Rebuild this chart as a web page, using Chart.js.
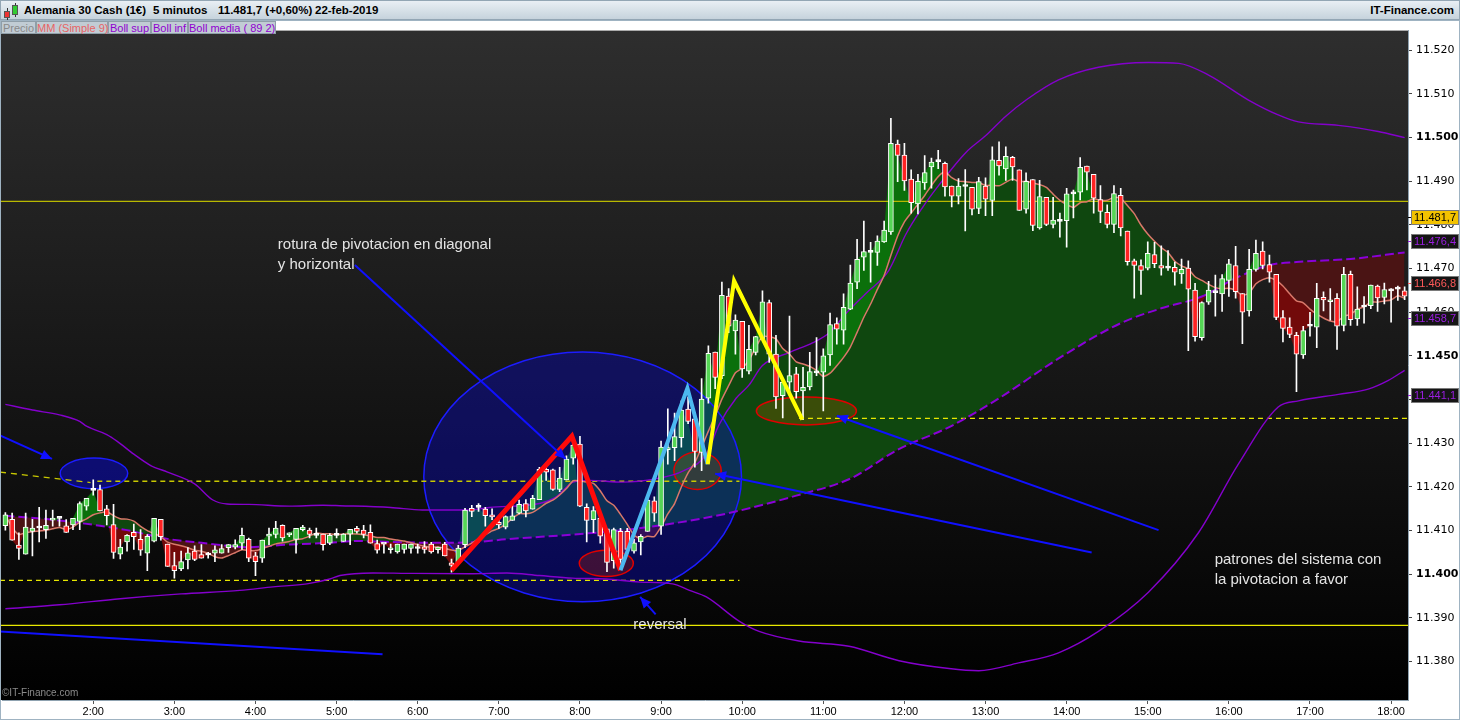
<!DOCTYPE html>
<html>
<head>
<meta charset="utf-8">
<title>Alemania 30 Cash</title>
<script src="https://cdn.jsdelivr.net/npm/chart.js@4.4.1/dist/chart.umd.min.js"></script>
<style>
  html, body { margin: 0; padding: 0; background: #fff; }
  body { width: 1460px; height: 720px; position: relative; overflow: hidden; font-family: "Liberation Sans", Arial, sans-serif; }
  #head { position: absolute; left: 0; top: 0; width: 1460px; height: 20px; box-sizing: border-box; background: linear-gradient(#e9eff4, #c6d3dc); border: 1px solid #93a6b4; }
  #head span { position: absolute; top: 3px; font-size: 11.5px; font-weight: bold; color: #000; white-space: nowrap; }
  #head i { position: absolute; display: block; }
  #wrap { position: absolute; left: 0; top: 20px; width: 1460px; height: 700px; }
  .leg { position: absolute; top: 21px; height: 13px; line-height: 12px; font-size: 11px; text-align: center; background: #c1ccd4; border: 1px solid #8f9ea8; box-sizing: border-box; white-space: nowrap; }
</style>
</head>
<body>
<div id="head">
  <i style="left:6px;top:7px;width:1px;height:12px;background:#333"></i>
  <i style="left:3px;top:10px;width:6px;height:7px;background:#e33;border:1px solid #555;box-sizing:border-box"></i>
  <i style="left:14px;top:2px;width:1px;height:14px;background:#333"></i>
  <i style="left:11px;top:4px;width:6px;height:10px;background:#3c3;border:1px solid #555;box-sizing:border-box"></i>
  <span style="left:23px">Alemania 30 Cash (1€)</span>
  <span style="left:152px">5 minutos</span>
  <span style="left:217px">11.481,7 (+0,60%)</span>
  <span style="left:314px">22-feb-2019</span>
  <span style="right:5px">IT-Finance.com</span>
</div>
<div id="wrap"><canvas id="chart" width="1460" height="700"></canvas></div>
<div class="leg" style="left:1px;width:35px;color:#8a8a8a">Precio</div>
<div class="leg" style="left:36px;width:72px;color:#e86464">MM (Simple 9)</div>
<div class="leg" style="left:108px;width:43px;color:#9000d0">Boll sup</div>
<div class="leg" style="left:151px;width:37px;color:#9000d0">Boll inf</div>
<div class="leg" style="left:188px;width:88px;color:#9000d0">Boll media ( 89 2)</div>
<script>
// 5-minute bars from 0:55 to 18:10
const openP = [
  11411.1, 11412.6, 11406.7, 11404.6, 11409.8, 11410.6, 11410.2, 11412.4, 11412.8, 11411.1, 11411.3, 11412.1,
  11415.6, 11419.2, 11419.4, 11415.0, 11411.4, 11404.6, 11407.4, 11409.6, 11408.0, 11404.8, 11407.6, 11412.6,
  11406.9, 11402.0, 11401.2, 11403.3, 11405.3, 11404.5, 11404.4, 11404.8, 11404.8, 11406.1, 11406.2, 11407.1,
  11408.0, 11404.2, 11403.7, 11408.7, 11409.1, 11411.2, 11409.0, 11408.0, 11410.2, 11410.1, 11408.9, 11409.2,
  11407.1, 11408.9, 11407.5, 11409.2, 11410.5, 11410.1, 11409.6, 11407.0, 11406.9, 11405.6, 11405.1, 11405.7,
  11405.9, 11405.9, 11406.3, 11406.9, 11405.6, 11406.9, 11402.6, 11402.7, 11406.8, 11415.1, 11415.3, 11414.9,
  11413.6, 11411.9, 11410.8, 11412.3, 11414.0, 11416.2, 11414.9, 11417.1, 11424.0, 11423.9, 11419.4, 11421.6,
  11426.6, 11429.8, 11415.3, 11412.5, 11412.8, 11410.4, 11403.1, 11409.8, 11409.8, 11405.3, 11407.4, 11409.8,
  11416.8, 11411.0, 11428.5, 11429.0, 11431.3, 11437.8, 11435.6, 11427.9, 11440.3, 11450.9, 11445.5, 11463.7,
  11455.7, 11457.9, 11446.5, 11450.8, 11453.8, 11462.2, 11450.4, 11440.9, 11444.0, 11445.9, 11442.0, 11442.9,
  11446.1, 11446.3, 11450.2, 11457.4, 11455.9, 11460.7, 11466.9, 11472.6, 11473.7, 11473.7, 11476.1, 11478.4,
  11498.5, 11496.0, 11490.5, 11484.8, 11489.6, 11493.3, 11494.5, 11494.1, 11488.9, 11486.6, 11488.8, 11488.6,
  11483.8, 11488.9, 11485.6, 11494.8, 11492.8, 11495.5, 11492.6, 11483.6, 11490.4, 11479.3, 11486.3, 11480.1,
  11480.8, 11481.0, 11487.1, 11487.5, 11493.5, 11491.6, 11485.8, 11482.9, 11480.1, 11486.8, 11478.6, 11471.8,
  11470.7, 11470.1, 11473.2, 11470.7, 11470.1, 11470.3, 11468.8, 11470.1, 11465.1, 11454.2, 11462.3, 11464.5,
  11464.2, 11467.3, 11470.7, 11464.3, 11460.3, 11469.8, 11474.0, 11470.9, 11468.7, 11458.8, 11456.6, 11454.7,
  11450.2, 11456.8, 11456.6, 11463.4, 11462.4, 11463.2, 11457.0, 11468.7, 11458.5, 11461.2, 11461.5, 11466.0,
  11463.4, 11464.9, 11465.3, 11464.9
];
const highP = [
  11414.1, 11414.0, 11409.5, 11414.0, 11412.6, 11415.3, 11414.7, 11414.7, 11413.0, 11412.5, 11412.8, 11416.6,
  11417.4, 11421.6, 11420.4, 11415.8, 11416.0, 11408.0, 11409.1, 11411.5, 11410.2, 11409.1, 11412.8, 11412.6,
  11406.9, 11405.0, 11405.3, 11406.1, 11406.5, 11406.8, 11405.0, 11406.5, 11406.8, 11406.8, 11407.9, 11410.6,
  11408.3, 11405.0, 11407.8, 11410.6, 11412.1, 11411.3, 11409.5, 11410.5, 11411.2, 11410.6, 11410.6, 11409.2,
  11409.3, 11410.4, 11409.3, 11410.3, 11411.0, 11411.2, 11411.3, 11407.8, 11406.9, 11406.9, 11406.9, 11406.9,
  11406.9, 11406.9, 11407.5, 11407.3, 11406.2, 11407.3, 11403.5, 11406.6, 11415.1, 11415.8, 11416.2, 11415.3,
  11415.0, 11413.1, 11413.4, 11416.0, 11417.0, 11417.1, 11418.1, 11424.5, 11424.6, 11424.1, 11424.5, 11427.1,
  11431.6, 11431.6, 11416.1, 11415.5, 11412.8, 11410.4, 11410.6, 11410.5, 11410.5, 11408.0, 11409.1, 11417.3,
  11417.7, 11430.5, 11437.9, 11436.9, 11439.7, 11440.6, 11435.6, 11444.8, 11452.3, 11450.9, 11466.9, 11465.4,
  11459.4, 11457.9, 11457.0, 11454.5, 11464.9, 11462.8, 11454.7, 11444.8, 11459.1, 11447.4, 11447.4, 11450.8,
  11454.2, 11451.6, 11459.8, 11458.7, 11464.2, 11470.8, 11476.7, 11480.9, 11476.0, 11477.5, 11480.9, 11504.4,
  11499.4, 11498.7, 11492.6, 11491.6, 11495.9, 11495.3, 11497.1, 11494.4, 11488.9, 11490.6, 11492.7, 11488.6,
  11490.9, 11490.8, 11497.9, 11499.0, 11497.9, 11495.7, 11492.6, 11491.9, 11490.4, 11490.2, 11486.3, 11486.3,
  11482.7, 11488.4, 11488.0, 11495.4, 11493.5, 11491.6, 11489.0, 11484.6, 11489.0, 11488.4, 11478.6, 11472.2,
  11472.0, 11476.1, 11476.0, 11475.2, 11474.1, 11471.5, 11472.2, 11471.8, 11466.6, 11462.4, 11467.1, 11468.5,
  11468.6, 11472.1, 11475.1, 11464.3, 11474.4, 11476.5, 11476.1, 11473.1, 11468.7, 11460.4, 11458.7, 11455.4,
  11456.8, 11460.0, 11466.6, 11464.7, 11465.4, 11464.3, 11470.3, 11469.4, 11465.8, 11463.6, 11466.2, 11466.2,
  11466.7, 11465.4, 11466.0, 11465.8
];
const lowP = [
  11410.1, 11407.8, 11403.4, 11404.6, 11404.2, 11407.4, 11408.2, 11411.0, 11411.0, 11409.6, 11410.2, 11410.2,
  11414.7, 11418.1, 11414.5, 11411.3, 11403.6, 11403.5, 11405.3, 11405.7, 11404.3, 11400.8, 11407.4, 11407.8,
  11401.8, 11399.1, 11400.8, 11401.2, 11403.1, 11403.7, 11403.7, 11402.9, 11404.8, 11405.0, 11405.8, 11405.7,
  11402.9, 11399.7, 11402.7, 11406.8, 11408.3, 11407.6, 11408.6, 11404.8, 11409.9, 11408.3, 11408.3, 11405.5,
  11406.8, 11408.3, 11407.5, 11406.8, 11409.4, 11408.3, 11407.1, 11404.8, 11404.8, 11404.8, 11404.8, 11404.8,
  11404.8, 11404.8, 11404.8, 11404.8, 11404.8, 11404.2, 11400.5, 11402.7, 11406.1, 11413.2, 11414.4, 11411.0,
  11412.5, 11410.5, 11410.4, 11412.3, 11413.8, 11413.1, 11414.9, 11417.1, 11421.5, 11419.2, 11418.9, 11421.6,
  11425.2, 11415.5, 11407.4, 11409.5, 11407.1, 11400.6, 11401.4, 11401.8, 11404.6, 11404.8, 11404.4, 11409.8,
  11412.1, 11409.1, 11425.2, 11426.0, 11429.1, 11434.5, 11424.5, 11423.7, 11439.2, 11442.5, 11444.8, 11455.3,
  11450.4, 11445.1, 11445.9, 11450.2, 11453.8, 11448.5, 11438.0, 11435.8, 11441.0, 11440.3, 11435.4, 11442.2,
  11445.5, 11437.4, 11447.8, 11452.7, 11452.7, 11460.6, 11465.4, 11469.6, 11466.9, 11470.7, 11476.0, 11477.8,
  11489.9, 11487.9, 11482.7, 11482.5, 11488.1, 11488.4, 11492.9, 11486.6, 11484.1, 11484.8, 11478.6, 11482.3,
  11482.6, 11482.1, 11482.1, 11491.4, 11490.2, 11490.2, 11483.3, 11482.7, 11478.7, 11479.0, 11479.8, 11479.3,
  11477.2, 11474.9, 11481.6, 11485.7, 11488.0, 11482.7, 11480.5, 11479.3, 11478.2, 11477.5, 11470.8, 11463.2,
  11464.1, 11469.7, 11470.2, 11468.5, 11469.6, 11466.2, 11466.6, 11451.2, 11453.4, 11453.6, 11461.8, 11459.1,
  11460.2, 11463.6, 11463.2, 11452.8, 11459.1, 11469.4, 11469.9, 11466.9, 11458.3, 11453.2, 11454.2, 11441.8,
  11449.4, 11454.5, 11451.9, 11460.3, 11458.2, 11451.5, 11455.7, 11457.0, 11457.0, 11457.5, 11460.8, 11460.2,
  11461.9, 11457.7, 11462.7, 11462.9
];
const closeP = [
  11413.6, 11407.8, 11405.9, 11410.8, 11410.6, 11410.6, 11411.2, 11412.8, 11412.8, 11409.6, 11412.8, 11416.2,
  11417.4, 11419.2, 11414.5, 11413.4, 11405.0, 11406.2, 11408.9, 11408.6, 11405.5, 11408.7, 11412.8, 11408.6,
  11401.8, 11400.8, 11402.9, 11404.9, 11403.4, 11403.7, 11404.4, 11405.6, 11405.9, 11406.8, 11406.8, 11408.9,
  11403.7, 11402.9, 11407.8, 11409.2, 11410.6, 11408.3, 11409.5, 11410.5, 11410.8, 11409.1, 11408.9, 11406.8,
  11408.9, 11408.9, 11409.2, 11410.3, 11409.8, 11409.1, 11407.1, 11405.5, 11406.9, 11405.8, 11406.9, 11406.9,
  11406.9, 11405.9, 11405.7, 11405.1, 11406.2, 11404.2, 11402.0, 11406.0, 11414.7, 11414.4, 11415.3, 11413.4,
  11413.1, 11411.3, 11413.2, 11413.4, 11416.0, 11414.5, 11417.4, 11424.0, 11423.4, 11419.4, 11422.0, 11426.4,
  11429.6, 11415.6, 11412.3, 11414.6, 11408.7, 11402.7, 11410.2, 11403.4, 11405.7, 11407.2, 11408.7, 11417.0,
  11414.0, 11429.1, 11429.0, 11431.5, 11437.6, 11435.0, 11428.1, 11440.1, 11450.6, 11445.1, 11463.9, 11456.8,
  11458.2, 11447.0, 11451.5, 11454.4, 11462.4, 11450.4, 11440.6, 11444.0, 11445.5, 11441.8, 11442.8, 11446.4,
  11446.1, 11450.0, 11457.2, 11456.1, 11461.1, 11466.7, 11472.1, 11473.9, 11473.7, 11476.3, 11478.8, 11498.7,
  11495.9, 11490.1, 11485.1, 11490.0, 11492.0, 11494.4, 11494.5, 11488.7, 11486.6, 11488.9, 11488.8, 11483.6,
  11489.9, 11485.9, 11494.9, 11493.5, 11495.7, 11493.3, 11483.3, 11490.0, 11479.9, 11486.5, 11480.1, 11481.1,
  11480.8, 11487.1, 11487.1, 11493.2, 11492.1, 11486.1, 11483.1, 11480.1, 11487.2, 11479.3, 11471.6, 11470.7,
  11469.6, 11473.5, 11471.1, 11470.1, 11470.1, 11469.2, 11469.8, 11465.3, 11454.4, 11462.2, 11465.1, 11464.5,
  11467.7, 11471.1, 11464.7, 11460.0, 11469.8, 11473.5, 11470.7, 11469.2, 11458.8, 11456.3, 11454.9, 11450.4,
  11455.8, 11456.8, 11463.2, 11462.8, 11462.8, 11456.8, 11468.7, 11458.3, 11460.7, 11461.2, 11466.2, 11463.3,
  11465.2, 11464.9, 11465.3, 11463.7
];

// Bollinger (89, 2) read at bar positions
const supBar = [0, 4, 8, 11, 12, 15, 16.5, 19, 21.5, 24, 28, 30.7, 32.8, 36, 42, 47, 49.5, 57, 61.7, 68.7, 71.6, 79, 81.5, 84, 86.4, 91.3, 96.3, 100.3, 103.7, 105.6, 108.1, 110, 112, 116, 119.4, 121.9, 124.4, 127.3, 130.7, 133.2, 135.6, 138.1, 142.1, 145, 148, 151, 155.8, 161.7, 169.1, 173.6, 178, 183.9, 188.3, 191.3, 197.2, 203.1, 207];
const supVal = [11438.9, 11437.6, 11436.5, 11435.0, 11433.9, 11432.0, 11430.5, 11427.5, 11424.9, 11423.4, 11420.7, 11417.0, 11416.1, 11416.0, 11415.6, 11415.8, 11415.7, 11415.3, 11414.7, 11414.7, 11415.3, 11416.2, 11417.7, 11421.1, 11421.5, 11421.1, 11421.9, 11423.7, 11427.5, 11434.3, 11440.3, 11443.3, 11447.8, 11450.8, 11453.0, 11455.3, 11459.8, 11464.3, 11469.6, 11477.8, 11483.8, 11489.1, 11496.6, 11500.4, 11504.9, 11508.6, 11513.2, 11516.1, 11517.2, 11517.0, 11514.3, 11508.6, 11505.2, 11503.6, 11502.8, 11501.4, 11500.0];
const medBar = [0, 7, 14, 18, 24, 29, 36, 42, 48, 52, 57, 63, 69, 74, 84, 92, 99, 107, 117, 125, 132, 140, 147, 156, 165, 171, 177, 182, 187, 191, 199, 207];
const medVal = [11413.4, 11412.5, 11411.1, 11410.1, 11408.1, 11407.2, 11406.2, 11406.8, 11407.2, 11407.6, 11407.4, 11407.2, 11407.3, 11408.0, 11409.1, 11410.2, 11411.7, 11414.0, 11418.0, 11421.9, 11428.5, 11434.0, 11440.3, 11449.6, 11457.5, 11460.9, 11463.6, 11467.8, 11470.8, 11471.5, 11472.2, 11473.7];
const infBar = [0, 8, 17, 26, 34.7, 39.6, 44.6, 48, 49.5, 54.4, 59.4, 68.7, 74.2, 79, 83.9, 88.9, 93.8, 98.7, 101.2, 103.7, 108.6, 111.5, 117.4, 124.8, 132.2, 139.6, 144, 149.9, 155.8, 161.7, 169.1, 176.5, 182.4, 188.3, 191.3, 197.2, 201.6, 204.6, 207];
const infVal = [11392.1, 11393.0, 11394.4, 11395.5, 11396.3, 11397.1, 11397.8, 11398.9, 11399.7, 11400.3, 11400.2, 11400.1, 11400.3, 11399.7, 11399.1, 11398.9, 11398.2, 11397.8, 11396.3, 11394.8, 11389.2, 11386.9, 11384.7, 11383.5, 11380.2, 11378.4, 11377.9, 11379.7, 11382.0, 11386.9, 11395.9, 11409.5, 11425.2, 11438.3, 11439.7, 11441.2, 11442.4, 11444.4, 11446.7];

const hourTicks = ['2:00', '3:00', '4:00', '5:00', '6:00', '7:00', '8:00', '9:00', '10:00', '11:00', '12:00', '13:00', '14:00', '15:00', '16:00', '17:00', '18:00'];
const markVals = [11481.7, 11476.4, 11466.8, 11458.7, 11441.1];
const markBg = ['#f2c200', '#151515', '#151515', '#151515', '#151515'];
const markFg = ['#000000', '#9a1ee0', '#ff5a5a', '#9a1ee0', '#9a1ee0'];

const times = [];
for (let i = 0; i < closeP.length; i++) {
  const m = 55 + 5 * i;
  times.push(Math.floor(m / 60) + ':' + String(m % 60).padStart(2, '0'));
}

const bodies = openP.map((o, i) => [Math.min(o, closeP[i]), Math.max(o, closeP[i])]);
const wicks = lowP.map((l, i) => [l, highP[i]]);
const bodyColor = openP.map((o, i) => closeP[i] > o ? '#55d655' : (closeP[i] < o ? '#ff2222' : '#ffffff'));
const mm9 = closeP.map((c, i) => {
  const s = closeP.slice(Math.max(0, i - 8), i + 1);
  return s.reduce((a, b) => a + b, 0) / s.length;
});
const pts = (xs, ys) => xs.map((x, i) => ({ x: x, y: ys[i] }));
const idx = closeP.map((c, i) => i);

// drawings on top of the chart, in bar index / price units
const ovals = [
  { i: 85.4, p: 11422.3, ri: 23.5, rp: 28.6, fill: 'rgba(8,8,215,0.36)', stroke: '#1c1cff' },
  { i: 13.1, p: 11423.1, ri: 5.0, rp: 3.5, fill: 'rgba(10,10,210,0.5)', stroke: '#1c1cff' },
  { i: 88.9, p: 11402.5, ri: 4.0, rp: 3.0, fill: 'rgba(140,30,20,0.4)', stroke: '#e00000' },
  { i: 102.4, p: 11423.7, ri: 3.5, rp: 4.3, fill: 'rgba(140,90,0,0.3)', stroke: '#e00000' },
  { i: 118.5, p: 11437.4, ri: 7.4, rp: 3.2, fill: 'rgba(140,90,0,0.35)', stroke: '#e00000' }
];
const guides = [
  { a: [-0.8, 11485.4], b: [208, 11485.4], color: '#b8b800', dash: [] },
  { a: [-0.8, 11388.3], b: [208, 11388.3], color: '#e8e800', dash: [] },
  { a: [-0.8, 11423.4], b: [12.6, 11421.0], color: '#c8c800', dash: [6, 5] },
  { a: [13.6, 11421.3], b: [108.6, 11421.3], color: '#c8c800', dash: [5, 4] },
  { a: [-0.8, 11398.6], b: [108.6, 11398.6], color: '#e8e800', dash: [5, 4] },
  { a: [117.4, 11435.7], b: [208, 11435.7], color: '#e8e800', dash: [5, 4] }
];
const strokes = [
  { pts: [[66.0, 11400.9], [83.8, 11431.6], [91.0, 11400.9]], color: '#ff0a0a', w: 5 },
  { pts: [[91.0, 11400.9], [100.9, 11442.6], [103.9, 11425.2]], color: '#4cb8f0', w: 4 },
  { pts: [[103.9, 11425.2], [107.8, 11467.2], [117.9, 11435.4]], color: '#ffff00', w: 4 }
];
const arrows = [
  { a: [-0.8, 11431.8], b: [6.9, 11426.4], head: true },
  { a: [51.7, 11470.8], b: [82.9, 11426.4], head: true },
  { a: [160.7, 11405.0], b: [105.0, 11423.0], head: true },
  { a: [170.6, 11410.1], b: [123.0, 11436.3], head: true },
  { a: [96.2, 11390.8], b: [93.9, 11394.8], head: true },
  { a: [-0.8, 11386.9], b: [55.8, 11381.7], head: false }
];
const notes = [
  { t: 'rotura de pivotacion en diagonal', i: 40.3, p: 11475.5 },
  { t: 'y horizontal', i: 40.3, p: 11470.8 },
  { t: 'reversal', i: 92.9, p: 11388.3 },
  { t: 'patrones del sistema con', i: 178.9, p: 11403.4 },
  { t: 'la pivotacion a favor', i: 178.9, p: 11398.6 }
];

const scene = {
  id: 'scene',
  beforeDraw(chart) {
    const { ctx, chartArea: a } = chart;
    ctx.save();
    ctx.fillStyle = '#ffffff';
    ctx.fillRect(0, 0, chart.width, chart.height);
    const g = ctx.createLinearGradient(0, a.top, 0, a.bottom);
    g.addColorStop(0, '#2e2e2e');
    g.addColorStop(0.5, '#171717');
    g.addColorStop(1, '#000000');
    ctx.fillStyle = g;
    ctx.fillRect(0, a.top, a.right, a.bottom - a.top);
    ctx.restore();
  },
  beforeDatasetsDraw(chart) {
    const { ctx, chartArea: a } = chart;
    const X = v => chart.scales.x2.getPixelForValue(v);
    const Y = v => chart.scales.y.getPixelForValue(v);
    ctx.save();
    ctx.beginPath();
    ctx.rect(0, a.top, a.right, a.bottom - a.top);
    ctx.clip();
    ovals.forEach(o => {
      const cx = X(o.i), cy = Y(o.p);
      ctx.beginPath();
      ctx.ellipse(cx, cy, X(o.i + o.ri) - cx, cy - Y(o.p + o.rp), 0, 0, Math.PI * 2);
      ctx.fillStyle = o.fill;
      ctx.fill();
      ctx.lineWidth = 1.5;
      ctx.strokeStyle = o.stroke;
      ctx.stroke();
    });
    guides.forEach(g => {
      ctx.beginPath();
      ctx.setLineDash(g.dash);
      ctx.lineWidth = 1.3;
      ctx.strokeStyle = g.color;
      ctx.moveTo(X(g.a[0]), Y(g.a[1]));
      ctx.lineTo(X(g.b[0]), Y(g.b[1]));
      ctx.stroke();
    });
    ctx.restore();
  },
  afterDatasetsDraw(chart) {
    const { ctx, chartArea: a } = chart;
    const X = v => chart.scales.x2.getPixelForValue(v);
    const Y = v => chart.scales.y.getPixelForValue(v);
    ctx.save();
    ctx.beginPath();
    ctx.rect(0, a.top, a.right, a.bottom - a.top);
    ctx.clip();
    ctx.lineJoin = 'miter';
    strokes.forEach(s => {
      ctx.beginPath();
      s.pts.forEach((q, k) => k ? ctx.lineTo(X(q[0]), Y(q[1])) : ctx.moveTo(X(q[0]), Y(q[1])));
      ctx.lineWidth = s.w;
      ctx.strokeStyle = s.color;
      ctx.stroke();
    });
    ctx.strokeStyle = '#1010ff';
    ctx.fillStyle = '#1010ff';
    ctx.lineWidth = 2;
    arrows.forEach(r => {
      const x1 = X(r.a[0]), y1 = Y(r.a[1]), x2 = X(r.b[0]), y2 = Y(r.b[1]);
      ctx.beginPath();
      ctx.moveTo(x1, y1);
      ctx.lineTo(x2, y2);
      ctx.stroke();
      if (r.head) {
        const t = Math.atan2(y2 - y1, x2 - x1), L = 12, W = 0.42;
        ctx.beginPath();
        ctx.moveTo(x2, y2);
        ctx.lineTo(x2 - L * Math.cos(t - W), y2 - L * Math.sin(t - W));
        ctx.lineTo(x2 - L * Math.cos(t + W), y2 - L * Math.sin(t + W));
        ctx.closePath();
        ctx.fill();
      }
    });
    ctx.font = '15px "Liberation Sans", Arial, sans-serif';
    ctx.fillStyle = '#e4e4e4';
    ctx.textBaseline = 'middle';
    ctx.textAlign = 'left';
    notes.forEach(n => ctx.fillText(n.t, X(n.i), Y(n.p)));
    ctx.font = '10px "Liberation Sans Narrow", "Liberation Sans", sans-serif';
    ctx.fillStyle = '#8a8a8a';
    ctx.fillText('©IT-Finance.com', 2, a.bottom - 7);
    ctx.restore();
  },
  afterDraw(chart) {
    const { ctx, chartArea: a } = chart;
    const Y = v => chart.scales.y.getPixelForValue(v);
    ctx.save();
    ctx.font = '11px "Liberation Sans", Arial, sans-serif';
    ctx.textBaseline = 'middle';
    ctx.textAlign = 'center';
    markVals.forEach((v, k) => {
      const y = Math.round(Y(v)) + 0.5;
      let s = v.toFixed(1).replace('.', ',');
      s = s.slice(0, 2) + '.' + s.slice(2);
      ctx.fillStyle = markBg[k];
      ctx.fillRect(a.right + 3, y - 7, 48, 14);
      ctx.strokeStyle = '#7a7a7a';
      ctx.lineWidth = 1;
      ctx.strokeRect(a.right + 3.5, y - 7, 47, 14);
      ctx.beginPath();
      ctx.strokeStyle = k === 0 ? '#000' : markFg[k];
      ctx.moveTo(a.right, y);
      ctx.lineTo(a.right + 3, y);
      ctx.stroke();
      ctx.fillStyle = markFg[k];
      ctx.fillText(s, a.right + 27, y + 0.5);
    });
    ctx.strokeStyle = '#9fb3c2';
    ctx.lineWidth = 1;
    ctx.strokeRect(0.5, 0.5, chart.width - 1, chart.height - 1);
    ctx.restore();
  }
};

new Chart(document.getElementById('chart'), {
  type: 'bar',
  data: {
    labels: times,
    datasets: [
      { type: 'bar', label: 'cuerpo', data: bodies, xAxisID: 'x', yAxisID: 'y', grouped: false, order: 0,
        backgroundColor: bodyColor, borderColor: '#ffffff', borderWidth: 1, borderSkipped: false,
        barThickness: 5, minBarLength: 2 },
      { type: 'bar', label: 'mecha', data: wicks, xAxisID: 'x', yAxisID: 'y', grouped: false, order: 1,
        backgroundColor: '#ffffff', borderWidth: 0, barThickness: 1 },
      { type: 'line', label: 'MM (Simple 9)', data: pts(idx, mm9), xAxisID: 'x2', yAxisID: 'y', order: 2,
        borderColor: '#d9786a', borderWidth: 1.5, pointRadius: 0, tension: 0.2,
        fill: { target: 5, above: '#0f470f', below: '#4a1414' } },
      { type: 'line', label: 'Boll sup', data: pts(supBar, supVal), xAxisID: 'x2', yAxisID: 'y', order: 3,
        borderColor: '#8400cc', borderWidth: 1.4, pointRadius: 0, cubicInterpolationMode: 'monotone', fill: false },
      { type: 'line', label: 'Boll inf', data: pts(infBar, infVal), xAxisID: 'x2', yAxisID: 'y', order: 4,
        borderColor: '#8400cc', borderWidth: 1.4, pointRadius: 0, cubicInterpolationMode: 'monotone', fill: false },
      { type: 'line', label: 'Boll media', data: pts(medBar, medVal), xAxisID: 'x2', yAxisID: 'y', order: 5,
        borderColor: '#8a00d8', borderWidth: 2, borderDash: [9, 4], pointRadius: 0, cubicInterpolationMode: 'monotone', fill: false },
      { type: 'line', label: 'Precio', data: pts(idx, closeP), xAxisID: 'x2', yAxisID: 'y', order: 6,
        borderColor: 'transparent', borderWidth: 1, pointRadius: 0,
        fill: { target: 2, above: '#0b700b', below: '#720a0a' } }
    ]
  },
  options: {
    responsive: false,
    animation: false,
    devicePixelRatio: 1,
    layout: { padding: { left: 2, right: 0, top: 0, bottom: 0 } },
    plugins: {
      legend: { display: false },
      tooltip: { enabled: false },
      filler: { drawTime: 'beforeDatasetsDraw' }
    },
    scales: {
      x: {
        type: 'category',
        offset: true,
        grid: { offset: false, drawOnChartArea: false, tickLength: 4, color: '#555' },
        border: { display: true, color: '#8fa2b0' },
        ticks: {
          autoSkip: false, maxRotation: 0, minRotation: 0, padding: 1, color: '#000',
          font: { family: '"Liberation Sans Narrow", "Liberation Sans", sans-serif', size: 11 },
          callback: (v, i) => hourTicks.includes(times[i]) ? times[i] : null
        },
        afterFit: s => { s.height = 20; }
      },
      x2: { type: 'linear', display: false, offset: false, grace: 0, min: -0.5, max: 207.5 },
      y: {
        position: 'right',
        min: 11371.2,
        max: 11524.5,
        grid: { drawOnChartArea: false, tickLength: 4, color: '#444' },
        border: { display: true, color: '#8fa2b0' },
        ticks: {
          stepSize: 10, maxTicksLimit: 30, includeBounds: false, padding: 4, color: '#000',
          font: c => ({ family: '"DejaVu Sans", sans-serif', size: 11,
            weight: (c.tick && Math.round(c.tick.value) % 50 === 0) ? 'bold' : 'normal' }),
          callback: v => (v / 1000).toFixed(3)
        },
        afterFit: s => { s.width = 52; }
      }
    }
  },
  plugins: [scene]
});
</script>
</body>
</html>
